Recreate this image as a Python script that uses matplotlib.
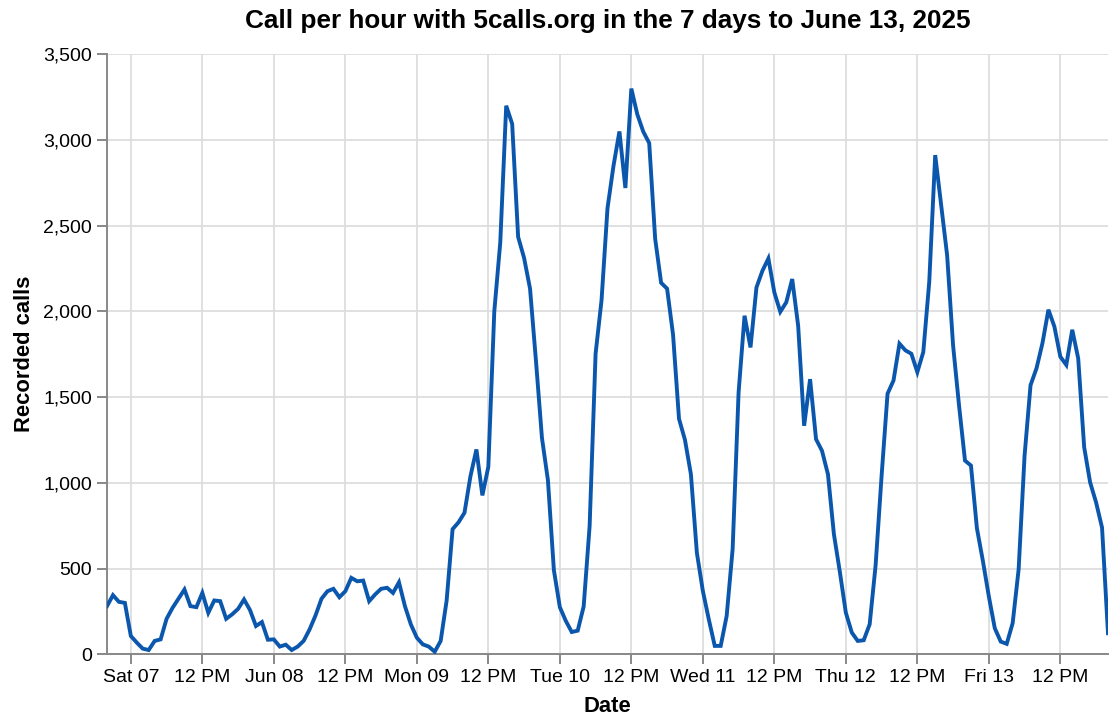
import pandas as pd
import matplotlib
matplotlib.use("Agg")
import matplotlib.pyplot as plt

plt.rcParams['font.family'] = ['Liberation Sans', 'DejaVu Sans']

# =========================
# data: calls per hour, Jun 6 20:00 -> Jun 13 20:00
# =========================
start_time = "2025-06-06 20:00"

calls_jun06 = [281, 345, 306, 300]
calls_jun07 = [107, 68, 33, 25, 78, 87, 207, 271, 324, 378, 281, 275,
               358, 242, 314, 310, 207, 233, 265, 320, 258, 165, 188, 85]
calls_jun08 = [87, 45, 56, 25, 45, 78, 145, 227, 324, 368, 382, 333,
               368, 446, 426, 430, 310, 349, 382, 388, 358, 420, 281, 174]
calls_jun09 = [97, 58, 45, 15, 78, 313, 730, 770, 826, 1039, 1195, 927,
               1094, 2000, 2401, 3200, 3094, 2435, 2312, 2133, 1709, 1262, 1016, 491]
calls_jun10 = [275, 195, 130, 138, 279, 748, 1753, 2066, 2602, 2848, 3050, 2720,
               3300, 3150, 3049, 2982, 2424, 2167, 2133, 1865, 1374, 1251, 1050, 592]
calls_jun11 = [370, 204, 49, 49, 224, 613, 1527, 1975, 1790, 2140, 2237, 2309,
               2111, 1998, 2053, 2189, 1916, 1333, 1605, 1255, 1187, 1050, 700, 480]
calls_jun12 = [243, 127, 78, 82, 175, 520, 1040, 1520, 1597, 1812, 1773, 1753,
               1646, 1763, 2172, 2912, 2620, 2328, 1802, 1451, 1130, 1101, 735, 545]
calls_jun13 = [338, 152, 74, 61, 182, 495, 1160, 1570, 1668, 1815, 2010, 1912,
               1736, 1688, 1893, 1726, 1208, 1003, 886, 739, 123]

tick_labels = ["Sat 07", "12 PM", "Jun 08", "12 PM", "Mon 09", "12 PM", "Tue 10",
               "12 PM", "Wed 11", "12 PM", "Thu 12", "12 PM", "Fri 13", "12 PM"]
y_ticks = [0, 500, 1000, 1500, 2000, 2500, 3000, 3500]

calls = (calls_jun06 + calls_jun07 + calls_jun08 + calls_jun09 +
         calls_jun10 + calls_jun11 + calls_jun12 + calls_jun13)
times = pd.date_range(start=start_time, periods=len(calls), freq="h")
tick_times = pd.date_range(start="2025-06-07 00:00", periods=len(tick_labels), freq="12h")

# =========================
# plot
# =========================
fig = plt.figure(figsize=(11.2, 7.28), dpi=100)
ax = fig.add_axes([107 / 1120, 73.7 / 728, 1001 / 1120, 600 / 728])

grid_c = "#dddddd"
axis_c = "#888888"

ax.plot(times, calls, color="#0b57ad", lw=2.8, solid_joinstyle="miter", zorder=3)

ax.set_xlim(times[0], times[-1])
ax.set_ylim(0, 3500)
ax.set_xticks(tick_times)
ax.set_xticklabels(tick_labels)
ax.set_yticks(y_ticks)
ax.set_yticklabels([f"{v:,}" for v in y_ticks])

ax.grid(True, color=grid_c, lw=1.3, zorder=0)
ax.set_axisbelow(True)
for side in ["top", "right"]:
    ax.spines[side].set_visible(False)
for side in ["left", "bottom"]:
    ax.spines[side].set_color(axis_c)
    ax.spines[side].set_linewidth(1.4)

ax.tick_params(axis="both", colors=axis_c, length=7.2, width=1.4,
               labelcolor="black", labelsize=14)
ax.tick_params(axis="y", pad=3.5)
ax.tick_params(axis="x", pad=3.5)

ax.set_xlabel("Date", fontsize=15.8, fontweight="bold", labelpad=7)
ax.set_ylabel("Recorded calls", fontsize=15.8, fontweight="bold", labelpad=6)

fig.text(607.5 / 1120, 1 - 21 / 728,
         "Call per hour with 5calls.org in the 7 days to June 13, 2025",
         ha="center", va="center", fontsize=18.8, fontweight="bold")

fig.savefig("out.png", dpi=100)
